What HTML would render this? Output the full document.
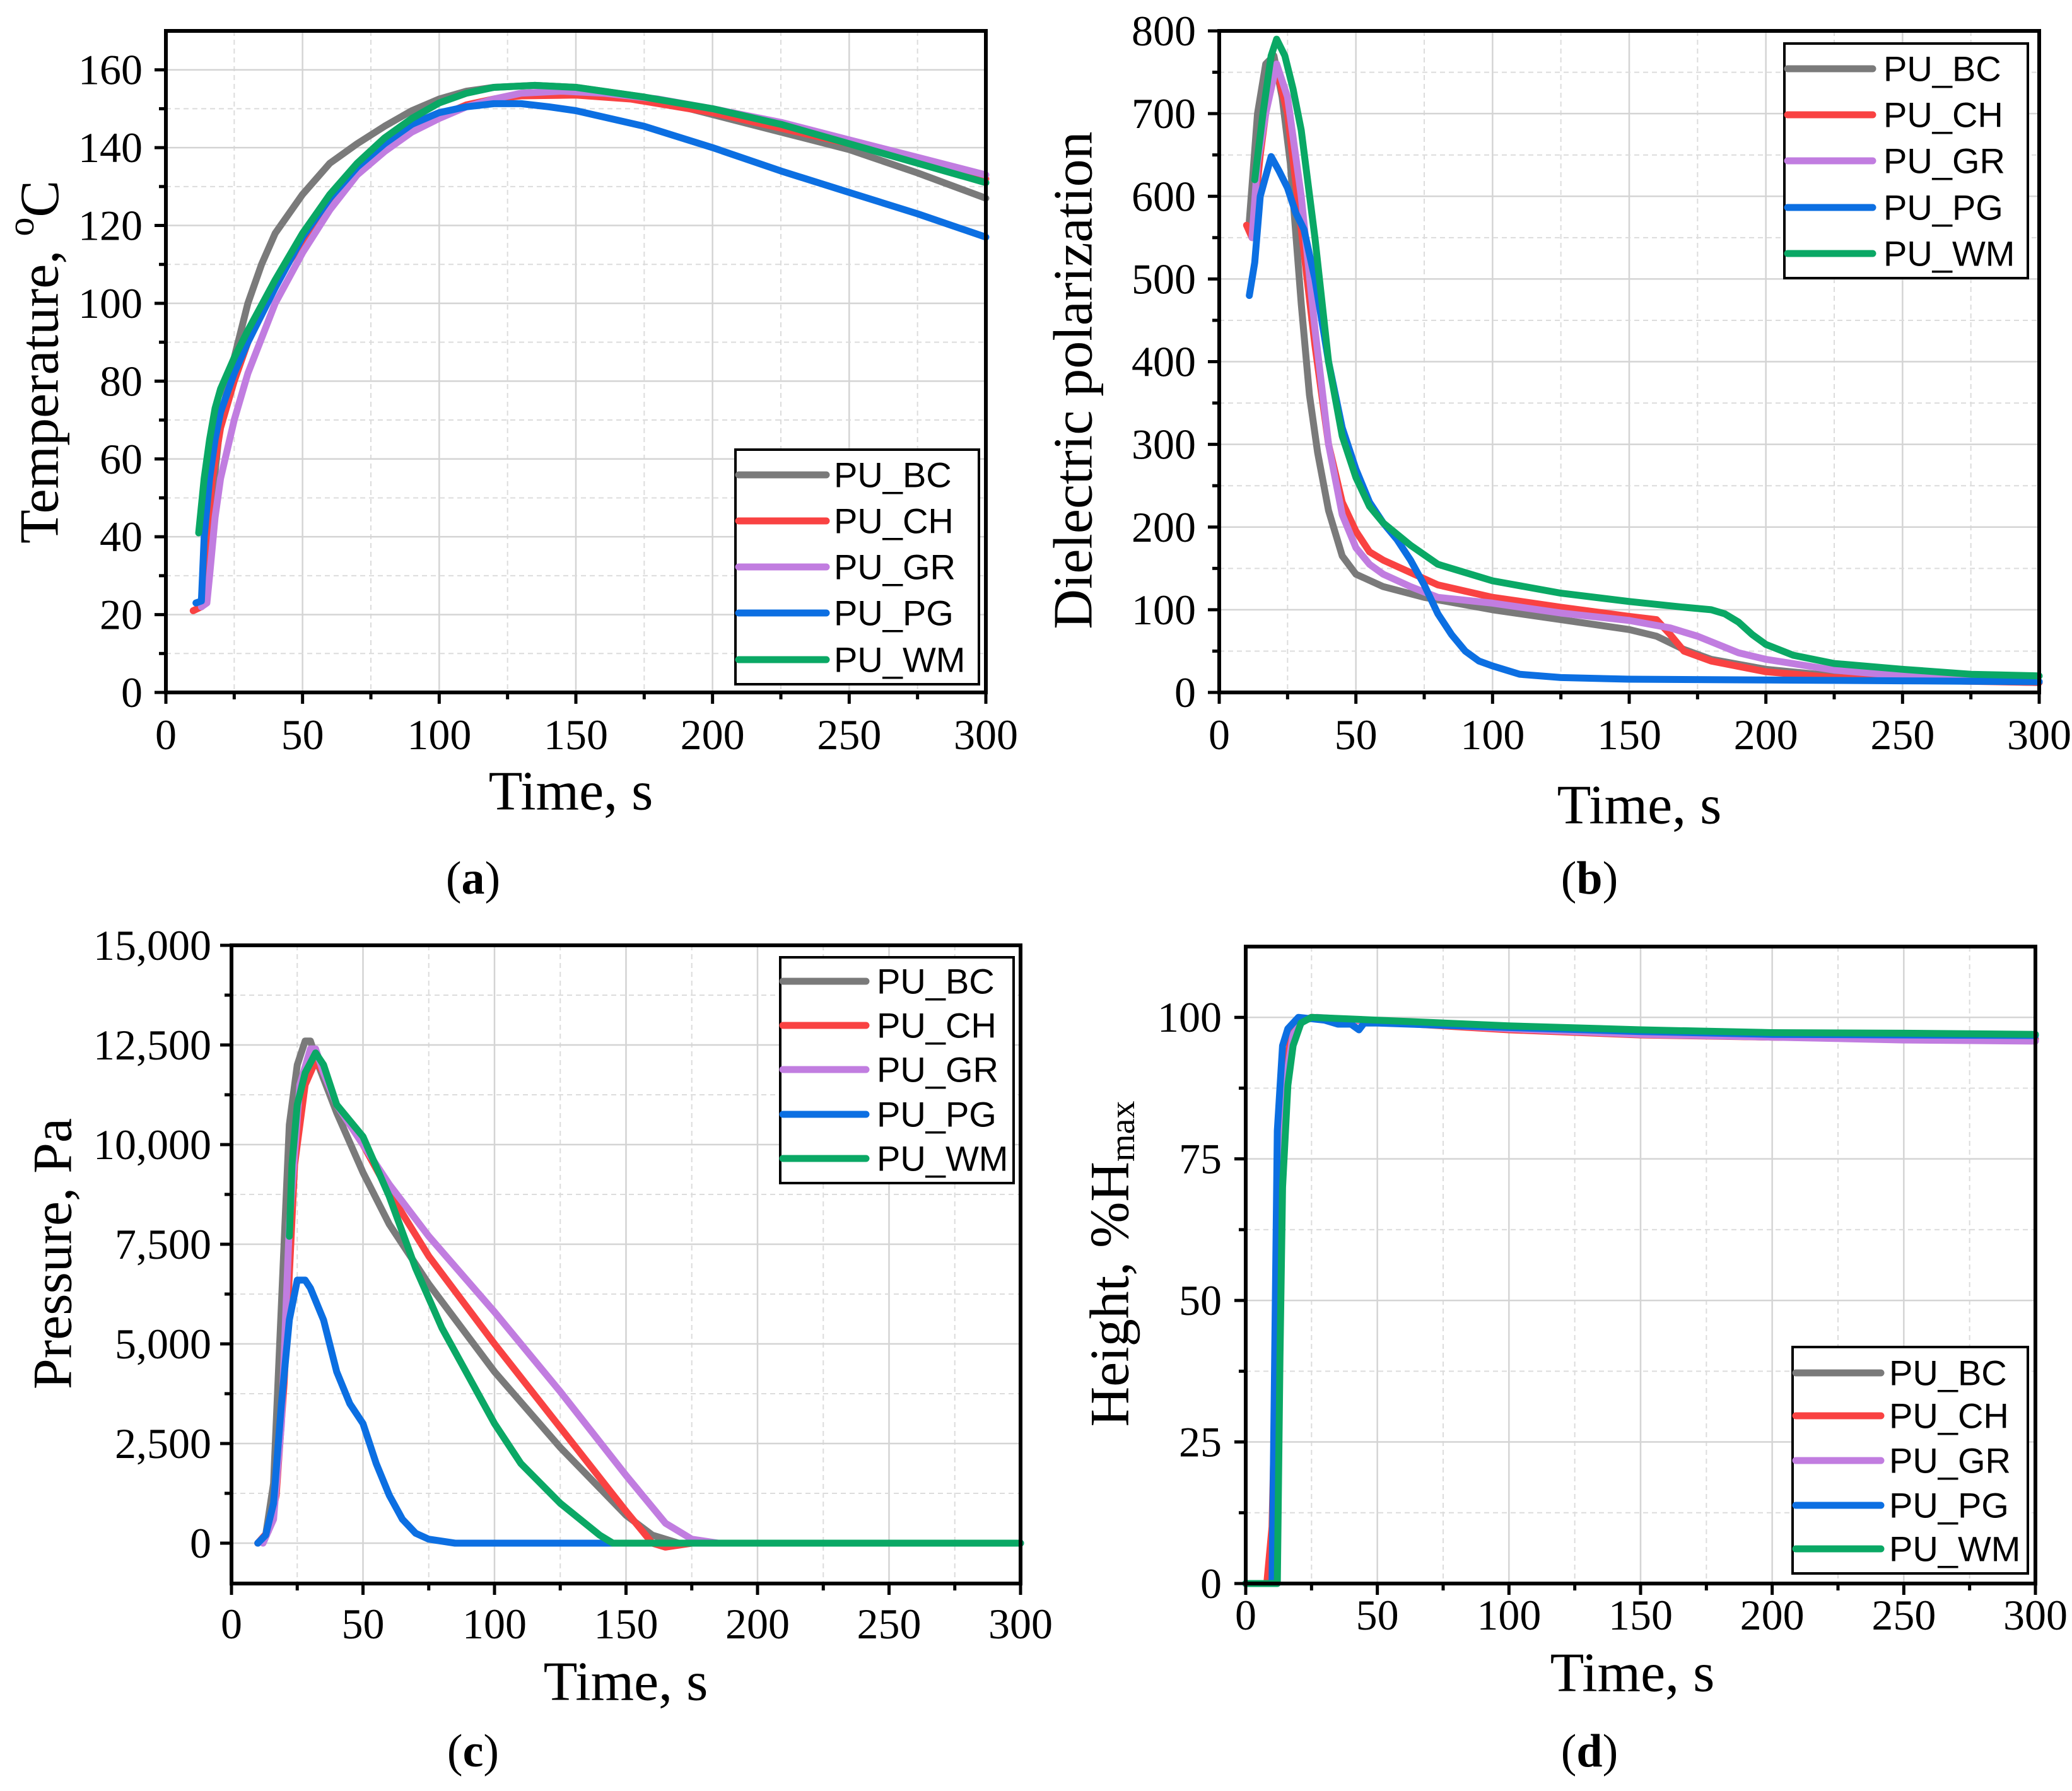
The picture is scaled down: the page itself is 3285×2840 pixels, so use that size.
<!DOCTYPE html>
<html><head><meta charset="utf-8"><style>
html,body{margin:0;padding:0;background:#fff;}
svg{display:block;}
</style></head><body>
<svg id="fig" width="3285" height="2840" viewBox="0 0 3285 2840" xmlns="http://www.w3.org/2000/svg"></svg>
<script>
const NS="http://www.w3.org/2000/svg";
const seriesNames=["PU_BC","PU_CH","PU_GR","PU_PG","PU_WM"];
const seriesColors=["#7a7a7a","#f94242","#c17de0","#0c6fe2","#0aa865"];
const xTicks=[0,50,100,150,200,250,300];
// Panel a: temperature
const tempBC_t=[13,15,17,20,25,30,35,40,50,60,70,80,90,100,110,120,135,150,175,200,225,250,275,300];
const tempBC_v=[22,35,50,70,86,100,110,118,128,136,141,145.5,149.5,152.5,154.5,155.5,156,155.5,153,148.5,144,139.5,133.5,127];
const tempCH_t=[10,13,15,17,20,25,30,40,50,60,70,80,90,100,110,120,130,150,170,200,225,250,275,300];
const tempCH_v=[21,22,40,55,68,80,90,105,116,126,134,140,144.5,148,151,152.5,153.3,153.5,152.5,149,145,141,136.5,132];
const tempGR_t=[13,15,16,18,20,25,30,40,50,60,70,80,90,100,110,120,130,145,160,180,200,225,250,275,300];
const tempGR_v=[22,23,30,45,55,70,82,100,113,124,133,139,144,147.5,150.5,152.5,154,154.5,154,152.5,150,146.5,142,137.5,133];
const tempPG_t=[11,13,14,16,18,20,25,30,40,50,60,70,80,90,100,110,120,130,140,150,175,200,225,250,275,300];
const tempPG_v=[23,23.5,40,55,65,72,82,90,104,117,127,135,141,146,149,150.5,151.3,151.3,150.5,149.5,145.5,140,134,128.5,123,117];
const tempWM_t=[12,14,16,18,20,25,30,40,50,60,70,80,90,100,110,120,135,150,175,200,225,250,275,300];
const tempWM_v=[41,55,65,73,78,86,93,106,118,128,136,142.5,147.5,151.5,154,155.5,156,155.5,153,150,146,141,136,131];
const tempTicks=[0,20,40,60,80,100,120,140,160];
// Panel b: dielectric polarization
const dpBC_t=[11,14,17,20,23,26,30,33,36,40,45,50,60,75,100,125,150,160,170,180,200,225,250,300];
const dpBC_v=[570,700,760,770,720,640,470,360,290,220,165,143,128,115,100,88,76,68,52,40,28,20,16,12];
const dpCH_t=[10,12,15,19,22,25,30,35,40,45,50,55,60,70,80,100,125,150,160,165,170,180,200,225,250,300];
const dpCH_v=[565,550,650,750,740,700,560,420,300,230,195,170,160,145,130,115,103,92,88,70,50,38,25,18,15,12];
const dpGR_t=[12,14,17,21,25,30,35,40,45,50,55,60,70,80,100,125,150,165,175,190,200,225,250,275,300];
const dpGR_v=[550,640,700,760,720,600,440,300,215,175,155,143,128,115,108,96,87,78,68,48,40,27,20,16,13];
const dpPG_t=[11,13,15,19,22,25,28,31,35,40,45,50,55,60,65,70,75,80,85,90,95,100,110,125,150,200,250,300];
const dpPG_v=[480,520,600,648,630,610,580,560,500,400,320,270,230,205,185,160,130,95,70,50,38,32,22,18,16,15,14,13];
const dpWM_t=[13,16,19,21,24,27,30,35,40,45,50,55,60,70,80,100,125,150,170,180,185,190,195,200,210,225,250,275,300];
const dpWM_v=[620,700,770,790,770,730,680,550,400,310,260,225,205,178,155,135,120,110,103,100,95,85,70,58,45,35,28,22,20];
const dpTicks=[0,100,200,300,400,500,600,700,800];
// Panel c: pressure
const prBC_t=[10,13,16,19,22,25,28,30,33,40,50,60,75,100,125,150,160,170,300];
const prBC_v=[0,200,1500,6000,10500,12000,12600,12600,12000,10800,9300,8000,6500,4300,2400,700,200,0,0];
const prCH_t=[10,14,17,20,24,28,32,35,40,50,60,75,100,125,150,160,165,175,300];
const prCH_v=[0,300,1200,4000,9500,11500,12100,11800,11000,10000,8800,7200,5000,2900,800,0,-100,0,0];
const prGR_t=[12,16,19,22,26,30,32,35,40,50,60,75,100,125,150,165,175,185,300];
const prGR_v=[0,600,3000,8000,11500,12400,12400,11800,11000,10000,9000,7700,5800,3800,1700,500,100,0,0];
const prPG_t=[10,13,16,19,22,25,28,30,35,40,45,50,55,60,65,70,75,85,300];
const prPG_v=[0,200,1000,3500,5600,6600,6600,6400,5600,4300,3500,3000,2000,1200,600,250,100,0,0];
const prWM_t=[22,23,25,28,32,35,40,50,60,70,80,90,100,110,125,140,145,300];
const prWM_v=[7700,9500,11000,11800,12300,12000,11000,10200,8700,6900,5400,4200,3000,2000,1000,200,0,0];
const prTicks=[0,2500,5000,7500,10000,12500,15000];
const prTickLabels=["0","2,500","5,000","7,500","10,000","12,500","15,000"];
// Panel d: height
const hBC_t=[0,9,10,12,14,17,20,25,50,100,150,200,250,300];
const hBC_v=[0,0,5,40,85,96,99,100,99.2,98,97,96.5,96.3,96.2];
const hCH_t=[0,8,10,12,14,17,20,25,50,100,150,200,250,300];
const hCH_v=[0,0,10,50,86,96,99,100,99.2,97.8,96.9,96.5,96.2,96];
const hGR_t=[0,10,11,13,15,18,22,27,50,100,150,200,250,300];
const hGR_v=[0,0,20,65,88,97,99.5,100,99.3,98,97,96.5,96,95.8];
const hPG_t=[0,10,11,12,14,16,20,30,35,40,43,45,50,100,150,200,300];
const hPG_v=[0,0,40,80,95,98,100,99.5,98.8,98.8,97.8,99,99,98.2,97.5,97,96.8];
const hWM_t=[0,12,13,14,16,18,21,25,50,100,150,200,250,300];
const hWM_v=[0,0,40,70,88,95,99,100,99.5,98.5,97.8,97.3,97.2,97];
const hTicks=[0,25,50,75,100];

const svg=document.getElementById('fig');
function el(tag,attrs,parent){const e=document.createElementNS(NS,tag);for(const k in attrs)e.setAttribute(k,attrs[k]);(parent||svg).appendChild(e);return e;}

function panel(cfg){
  const g=el('g',{});
  
  
  const L=cfg.L,R=cfg.R,T=cfg.T,B=cfg.B;
  const sx=v=>L+(v-0)/(300-0)*(R-L);
  const sy=v=>B-(v-cfg.ymin)/(cfg.ymax-cfg.ymin)*(B-T);
  const grid=el('g',{},g);
  
  
  for(let i=0;i<xTicks.length;i++){
    el('line',{x1:sx(xTicks[i]),x2:sx(xTicks[i]),y1:T,y2:B,stroke:'#d4d4d4','stroke-width':2.5},grid);
    if(i<xTicks.length-1){const m=(xTicks[i]+xTicks[i+1])/2;el('line',{x1:sx(m),x2:sx(m),y1:T,y2:B,stroke:'#dcdcdc','stroke-width':2,'stroke-dasharray':'8,6'},grid);}
  }
  const yt=cfg.yTicks,step=yt[1]-yt[0];
  for(let i=0;i<yt.length;i++){
    el('line',{x1:L,x2:R,y1:sy(yt[i]),y2:sy(yt[i]),stroke:'#d4d4d4','stroke-width':2.5},grid);
  }
  for(let m=yt[0]-step/2;m<=cfg.ymax;m+=step){
    if(m<=cfg.ymin||m>=cfg.ymax)continue;
    if(yt.indexOf(m)>=0)continue;
    el('line',{x1:L,x2:R,y1:sy(m),y2:sy(m),stroke:'#dcdcdc','stroke-width':2,'stroke-dasharray':'8,6'},grid);
    el('line',{x1:L-11,x2:L,y1:sy(m),y2:sy(m),stroke:'#000','stroke-width':5},g);
  }
  cfg.series.forEach((s,k)=>{
    const pts=s[0].map((t,i)=>sx(t).toFixed(1)+','+sy(s[1][i]).toFixed(1)).join(' ');
    const p=el('polyline',{points:pts,fill:'none',stroke:seriesColors[k],'stroke-width':11,'stroke-linejoin':'round','stroke-linecap':'round'},g);
    
    
  });
  el('rect',{x:L,y:T,width:R-L,height:B-T,fill:'none',stroke:'#000','stroke-width':6},g);
  for(let i=0;i<xTicks.length;i++){
    el('line',{x1:sx(xTicks[i]),x2:sx(xTicks[i]),y1:B,y2:B+18,stroke:'#000','stroke-width':5},g);
    if(i<xTicks.length-1){const m=(xTicks[i]+xTicks[i+1])/2;el('line',{x1:sx(m),x2:sx(m),y1:B,y2:B+11,stroke:'#000','stroke-width':5},g);}
    const tx=el('text',{x:sx(xTicks[i]),y:cfg.xLabY,'text-anchor':'middle','dominant-baseline':'central','font-family':'Liberation Serif, serif','font-size':68},g);
    tx.textContent=xTicks[i];
    
    
  }
  for(let i=0;i<yt.length;i++){
    el('line',{x1:L-18,x2:L,y1:sy(yt[i]),y2:sy(yt[i]),stroke:'#000','stroke-width':5},g);
    const ty=el('text',{x:L-cfg.yGap,y:sy(yt[i]),'text-anchor':'end','dominant-baseline':'central','font-family':'Liberation Serif, serif','font-size':68},g);
    ty.textContent=cfg.yLabels?cfg.yLabels[i]:yt[i];
    
    
  }
  const xt=el('text',{x:cfg.xTitle[0],y:cfg.xTitle[1],'text-anchor':'middle','dominant-baseline':'central','font-family':'Liberation Serif, serif','font-size':88},g);
  xt.textContent='Time, s';
  
  
  const ytt=el('text',{x:0,y:0,transform:'translate('+cfg.yTitle[0]+','+cfg.yTitle[1]+') rotate(-90)','text-anchor':'middle','dominant-baseline':'central','font-family':'Liberation Serif, serif','font-size':88},g);
  ytt.innerHTML=cfg.yTitleHTML;
  
  
  const lg=el('g',{},g);
  
  
  const Lb=cfg.legend;
  el('rect',{x:Lb.x,y:Lb.y,width:Lb.w,height:Lb.h,fill:'#fff',stroke:'#000','stroke-width':4},lg);
  seriesNames.forEach((n,k)=>{
    const yy=Lb.ys[k];
    const ln=el('line',{x1:Lb.l1,x2:Lb.l2,y1:yy,y2:yy,stroke:seriesColors[k],'stroke-width':11,'stroke-linecap':'round'},lg);
    
    
    const tt=el('text',{x:Lb.tx,y:yy,'dominant-baseline':'central','font-family':'Liberation Sans, sans-serif','font-size':56},lg);
    tt.textContent=n;
    
    
  });
  const pl=el('text',{x:cfg.pLab[0],y:cfg.pLab[1],'text-anchor':'middle','dominant-baseline':'central','font-family':'Liberation Serif, serif','font-size':74},g);
  pl.innerHTML='(<tspan font-weight="bold">'+cfg.id+'</tspan>)';
  
  
}

panel({id:'a',L:263,R:1563,T:49,B:1098,ymin:0,ymax:170,yTicks:tempTicks,yGap:37,xLabY:1165,
  xTitle:[905,1255],yTitle:[63,574],yTitleHTML:'Temperature, <tspan font-size="60" dy="-30">o</tspan><tspan dy="30">C</tspan>',
  series:[[tempBC_t,tempBC_v],[tempCH_t,tempCH_v],[tempGR_t,tempGR_v],[tempPG_t,tempPG_v],[tempWM_t,tempWM_v]],
  legend:{x:1166,y:713,w:386,h:372,ys:[753,826,899,972,1046],l1:1171,l2:1310,tx:1322},pLab:[750,1393]});
panel({id:'b',L:1933,R:3233,T:49,B:1098,ymin:0,ymax:800,yTicks:dpTicks,yGap:37,xLabY:1165,
  xTitle:[2599,1277],yTitle:[1702,603],yTitleHTML:'Dielectric polarization',
  series:[[dpBC_t,dpBC_v],[dpCH_t,dpCH_v],[dpGR_t,dpGR_v],[dpPG_t,dpPG_v],[dpWM_t,dpWM_v]],
  legend:{x:2829,y:69,w:386,h:372,ys:[109,182,255,329,402],l1:2834,l2:2969,tx:2986},pLab:[2520,1393]});
panel({id:'c',L:367,R:1618,T:1499,B:2511,ymin:-1013,ymax:15000,yTicks:prTicks,yLabels:prTickLabels,yGap:32,xLabY:2575,
  xTitle:[992,2667],yTitle:[84,1988],yTitleHTML:'Pressure, Pa',
  series:[[prBC_t,prBC_v],[prCH_t,prCH_v],[prGR_t,prGR_v],[prPG_t,prPG_v],[prWM_t,prWM_v]],
  legend:{x:1237,y:1518,w:370,h:358,ys:[1556,1626,1696,1767,1837],l1:1241,l2:1373,tx:1390},pLab:[750,2777]});
panel({id:'d',L:1975,R:3227,T:1501,B:2511,ymin:0,ymax:112.5,yTicks:hTicks,yGap:38,xLabY:2561,
  xTitle:[2588,2653],yTitle:[1760,2004],yTitleHTML:'Height, %H<tspan font-size="56" dy="20">max</tspan>',
  series:[[hBC_t,hBC_v],[hCH_t,hCH_v],[hGR_t,hGR_v],[hPG_t,hPG_v],[hWM_t,hWM_v]],
  legend:{x:2842,y:2136,w:373,h:359,ys:[2177,2245,2316,2387,2456],l1:2847,l2:2982,tx:2995},pLab:[2520,2777]});
</script>
</body></html>
